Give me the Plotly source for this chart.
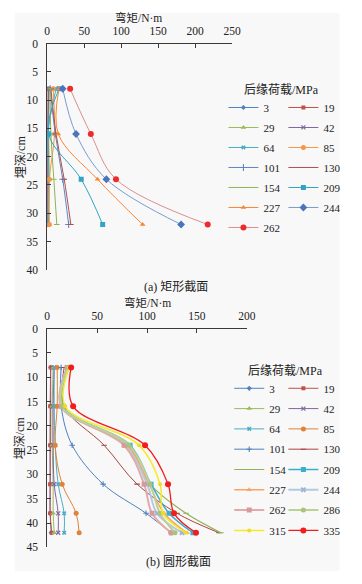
import plotly.graph_objects as go

W, H = 362, 584

# ---------------- data ----------------
depth_a = [8, 16, 24, 32]
loads_a = ["3", "19", "29", "42", "64", "85", "101", "130", "154", "209", "227", "244", "262"]
moment_a = {
    "3":   [2, 1, 1, 1],
    "19":  [1, 1, 1, 1],
    "29":  [3, 2, 3, 2],
    "42":  [2, 1, 1, 1],
    "64":  [12, 1, 2, 1],
    "85":  [8, 10, 3, 3],
    "101": [4, 11, 21, 29],
    "130": [5, 12, 23, 32],
    "154": [4, 5, 9, 13],
    "209": [16, 2, 46, 75],
    "227": [16, 15, 68, 129],
    "244": [21, 39, 80, 181],
    "262": [31, 59, 93, 217],
}

depth_b = [8, 16, 24, 32, 38, 42]
loads_b = ["3", "19", "29", "42", "64", "85", "101", "130", "154", "209", "227", "244",
           "262", "286", "315", "335"]
moment_b = {
    "3":   [3.5, 3.5, 3, 3, 3, 4],
    "19":  [3.5, 3, 3, 3, 3, 4.5],
    "29":  [6, 5, 5, 6, 6, 7],
    "42":  [7, 6, 6, 7, 11, 11],
    "64":  [7, 7, 8, 11, 17, 17],
    "85":  [10, 10, 8, 15, 29, 32],
    "101": [14, 14, 25, 56, 99, 124],
    "130": [17, 17, 57, 90, 130, 172],
    "154": [21, 15, 81, 103, 139, 174],
    "209": [22, 16, 83, 104, 122, 146],
    "227": [21, 15, 80, 102, 117, 140],
    "244": [20, 14, 78, 100, 110, 135],
    "262": [20, 14, 77, 97, 105, 124],
    "286": [21, 15, 82, 103, 113, 128],
    "315": [22, 18, 92, 113, 116, 139],
    "335": [24, 26, 98, 121, 127, 149],
}

xticks_a = [0, 50, 100, 150, 200, 250]
xticks_b = [0, 50, 100, 150, 200]
yticks_a = [0, 5, 10, 15, 20, 25, 30, 35, 40]
yticks_b = [0, 5, 10, 15, 20, 25, 30, 35, 40, 45]

# ---------------- styles ----------------
# (line color, marker color, symbol, marker size, line width)
style_a = {
    "3":   ("#4F81BD", "#4F81BD", "diamond", 4, 1),
    "19":  ("#C0504D", "#C0504D", "square", 4, 1),
    "29":  ("#9BBB59", "#9BBB59", "triangle-up", 5, 1),
    "42":  ("#8064A2", "#8064A2", "x-thin", 4, 1),
    "64":  ("#4BACC6", "#4BACC6", "x", 4, 1),
    "85":  ("#F79646", "#F79646", "circle", 5, 1),
    "101": ("#5F86C4", "#5F86C4", "cross-thin", 5, 1),
    "130": ("#B0504D", "#B0504D", "line-ew", 4, 1),
    "154": ("#8FB456", "#8FB456", "line-ew", 4, 1),
    "209": ("#2FA4C4", "#2FA4C4", "square", 5, 1),
    "227": ("#F7863A", "#F7863A", "triangle-up", 5, 1),
    "244": ("#7B9BD0", "#4A74BC", "diamond", 6, 1),
    "262": ("#D9908F", "#EE2A2A", "circle", 6, 1),
}
style_b = {
    "3":   ("#4F81BD", "#4F81BD", "diamond", 4, 1),
    "19":  ("#C0504D", "#C0504D", "square", 4, 1),
    "29":  ("#9BBB59", "#9BBB59", "triangle-up", 5, 1),
    "42":  ("#8064A2", "#8064A2", "x-thin", 4, 1),
    "64":  ("#4BACC6", "#4BACC6", "x", 4, 1),
    "85":  ("#E08238", "#E08238", "circle", 5, 1),
    "101": ("#4F81BD", "#4F81BD", "cross-thin", 4, 1),
    "130": ("#A84440", "#A84440", "line-ew", 4, 1),
    "154": ("#8FB456", "#8FB456", "line-ew", 4, 1.2),
    "209": ("#3AAFCB", "#3AAFCB", "square", 5, 1.5),
    "227": ("#F9A365", "#F9A365", "triangle-up", 5, 1.5),
    "244": ("#B3C8E4", "#9FB6DA", "x", 5, 2),
    "262": ("#E1ABAA", "#D89A99", "square", 5, 2),
    "286": ("#BCD294", "#A9C47A", "circle", 5, 2),
    "315": ("#F5EA2A", "#F0DC20", "circle", 4, 1.5),
    "335": ("#F21C1C", "#F21C1C", "circle", 6, 1.3),
}

FONT = "'Liberation Serif', 'Times New Roman', 'Noto Sans CJK SC', serif"
TXT = "#222222"

fig = go.Figure()


def add_series(loads, data, depth, styles, xa, ya, leg_left, leg_right):
    for i, k in enumerate(loads):
        lc, mc, sym, ms, lw = styles[k]
        thin = sym in ("cross-thin", "x-thin", "line-ew")
        marker = dict(symbol=sym, size=ms, color=mc,
                      line=dict(width=1.1 if thin else 0, color=mc))
        fig.add_trace(go.Scatter(
            x=data[k], y=depth, name=k, mode="lines+markers",
            line=dict(color=lc, width=lw, shape="spline", smoothing=1.0),
            marker=marker, xaxis=xa, yaxis=ya,
            legend=leg_left if i % 2 == 0 else leg_right,
            legendgroup=xa + k,
        ))


add_series(loads_a, moment_a, depth_a, style_a, "x", "y", "legend", "legend2")
add_series(loads_b, moment_b, depth_b, style_b, "x2", "y2", "legend3", "legend4")


def px(v):
    return v / W


def py(v):
    return 1 - v / H


axis_common = dict(
    showline=True, linecolor="#3a3a3a", linewidth=1,
    ticks="inside", ticklen=4, tickcolor="#3a3a3a", tickwidth=1,
    showgrid=False, zeroline=False,
    tickfont=dict(family=FONT, size=11.5, color=TXT),
)

leg_common = dict(
    orientation="v", xanchor="left", yanchor="top",
    bgcolor="rgba(0,0,0,0)", borderwidth=0,
    font=dict(family=FONT, size=11, color=TXT),
    traceorder="grouped", itemwidth=30,
)

fig.update_layout(
    width=W, height=H,
    margin=dict(l=0, r=0, t=0, b=0),
    paper_bgcolor="white", plot_bgcolor="rgba(0,0,0,0)",
    xaxis=dict(domain=[px(45.7), px(237)], range=[0, 250], tickvals=xticks_a,
               side="top", anchor="y", ticklabelstandoff=3, **axis_common),
    yaxis=dict(domain=[py(269.3), py(38.3)], range=[40, 0], tickvals=yticks_a,
               anchor="x", ticklabelstandoff=6, **axis_common),
    xaxis2=dict(domain=[px(45.7), px(252.3)], range=[0, 200], tickvals=xticks_b,
                side="top", anchor="y2", ticklabelstandoff=3, **axis_common),
    yaxis2=dict(domain=[py(552.7), py(329.3)], range=[45, 0], tickvals=yticks_b,
                anchor="x2", ticklabelstandoff=6, **axis_common),
    legend=dict(x=px(228), y=py(88.8), tracegroupgap=1, **leg_common),
    legend2=dict(x=px(290), y=py(88.8), tracegroupgap=1, **leg_common),
    legend3=dict(x=px(234), y=py(375.5), tracegroupgap=1.3, **leg_common),
    legend4=dict(x=px(290), y=py(375.5), tracegroupgap=1.3, **leg_common),
    showlegend=True,
)

fig.add_shape(type="rect", xref="paper", yref="paper",
              x0=px(12), x1=px(348), y0=py(577), y1=py(7),
              fillcolor="#F8F8F8", line=dict(width=0), layer="below")


def ann(text, x, y, size=12, angle=0):
    fig.add_annotation(text=text, x=px(x), y=py(y), xref="paper", yref="paper",
                       showarrow=False, xanchor="center", yanchor="middle",
                       textangle=angle, font=dict(family=FONT, size=size, color=TXT))


ann("弯矩/N·m", 140.5, 11.5, size=11.5)
ann("弯矩/N·m", 149, 302.5, size=11.5)
ann("埋深/cm", 18, 154, angle=-90)
ann("埋深/cm", 18, 441, angle=-90)
ann("后缘荷载/MPa", 288, 86)
ann("后缘荷载/MPa", 292, 373)
ann("(a) 矩形截面", 179, 287)
ann("(b) 圆形截面", 181, 568)

fig.write_html(
    "out.html",
    config={"displayModeBar": False},
    post_script="document.body.style.margin='0';document.body.style.overflow='hidden';",
)
